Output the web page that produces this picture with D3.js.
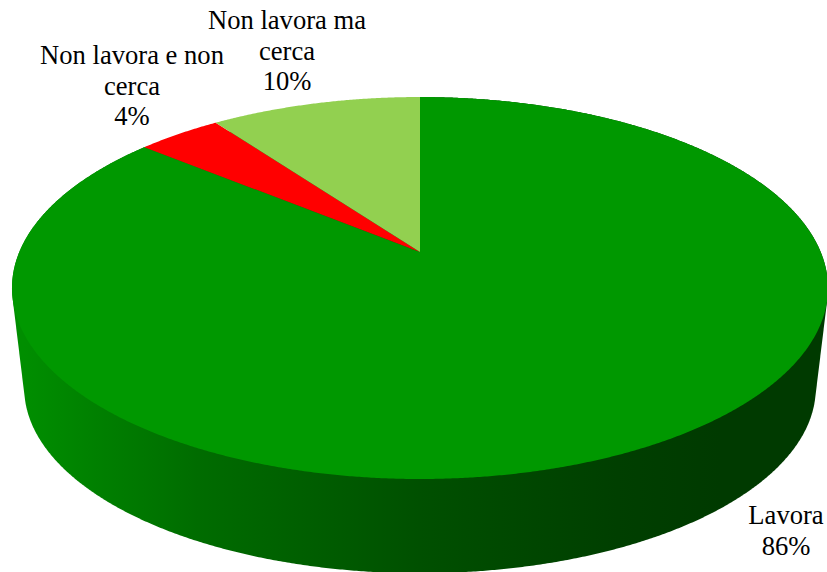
<!DOCTYPE html>
<html>
<head>
<meta charset="utf-8">
<script src="https://cdn.jsdelivr.net/npm/d3@7"></script>
<style>
  html, body { margin: 0; padding: 0; background: #fff; }
  svg { display: block; }
  text { font-family: "Liberation Serif", serif; font-size: 26.6px; fill: #000; text-anchor: middle; }
</style>
</head>
<body>
<script>
var categories = ['Lavora', 'Non lavora e non cerca', 'Non lavora ma cerca']
var values = [86, 4, 10]
var labelLines = [['Lavora'], ['Non lavora e non', 'cerca'], ['Non lavora ma', 'cerca']]

var colors = ['#009800', '#ff0000', '#92d050']
var labelPos = [[786, 524], [132, 64], [287, 29]]
var sideStops = [[0, '#008e00'], [0.22, '#006c00'], [0.5, '#005000'], [0.75, '#003f00'], [0.88, '#003a00'], [1, '#003a00']]

var width = 827, height = 572
var cx = 420

// perspective of the disc, fitted on back edge, apex and front edge
var radius = 400.7, persp = -0.1885, tiltA = 136.7, tiltB = 252
var sideScale = 0.97, sideDrop = 108.6

function topPoint(a) {
  var u = Math.sin(a), v = -Math.cos(a), k = 1 + persp * v
  return [cx + radius * u / k, (tiltA * v + tiltB) / k]
}

function bottomPoint(a) {
  var p = topPoint(a)
  return [cx + (p[0] - cx) * sideScale, p[1] * sideScale + sideDrop]
}

function arcAngles(s, e) {
  return d3.range(s, e, 0.005).concat([e])
}

var svg = d3.select('body').append('svg')
  .attr('width', width)
  .attr('height', height)

var grad = svg.append('defs').append('linearGradient')
  .attr('id', 'side')
  .attr('gradientUnits', 'userSpaceOnUse')
  .attr('x1', 24).attr('x2', 815)
  .attr('y1', 0).attr('y2', 0)

grad.selectAll('stop')
  .data(sideStops)
  .enter()
  .append('stop')
  .attr('offset', function (d) { return d[0] })
  .attr('stop-color', function (d) { return d[1] })

var pie = d3.pie().sort(null).value(function (d) { return d })
var slices = pie(values)
var line = d3.line()

// wall of the cylinder: only the big slice reaches the front
var big = slices[0]
var wall = arcAngles(big.startAngle, big.endAngle)
var hull = d3.polygonHull(wall.map(topPoint).concat(wall.map(bottomPoint)))

svg.append('path')
  .attr('d', line(hull) + 'Z')
  .attr('fill', 'url(#side)')

svg.selectAll('path.slice')
  .data(slices)
  .enter()
  .append('path')
  .attr('class', 'slice')
  .attr('fill', function (d, i) { return colors[i] })
  .attr('d', function (d) {
    var pts = arcAngles(d.startAngle, d.endAngle).map(topPoint)
    pts.push([cx, tiltB])
    return line(pts) + 'Z'
  })

var labels = svg.selectAll('text')
  .data(categories)
  .enter()
  .append('text')
  .attr('transform', function (d, i) {
    return 'translate(' + labelPos[i][0] + ',' + labelPos[i][1] + ')'
  })

labels.selectAll('tspan')
  .data(function (d, i) {
    return labelLines[i].concat([values[i] + '%'])
  })
  .enter()
  .append('tspan')
  .attr('x', 0)
  .attr('y', function (d, i) { return i * 30.5 })
  .text(function (d) { return d })
</script>
</body>
</html>
